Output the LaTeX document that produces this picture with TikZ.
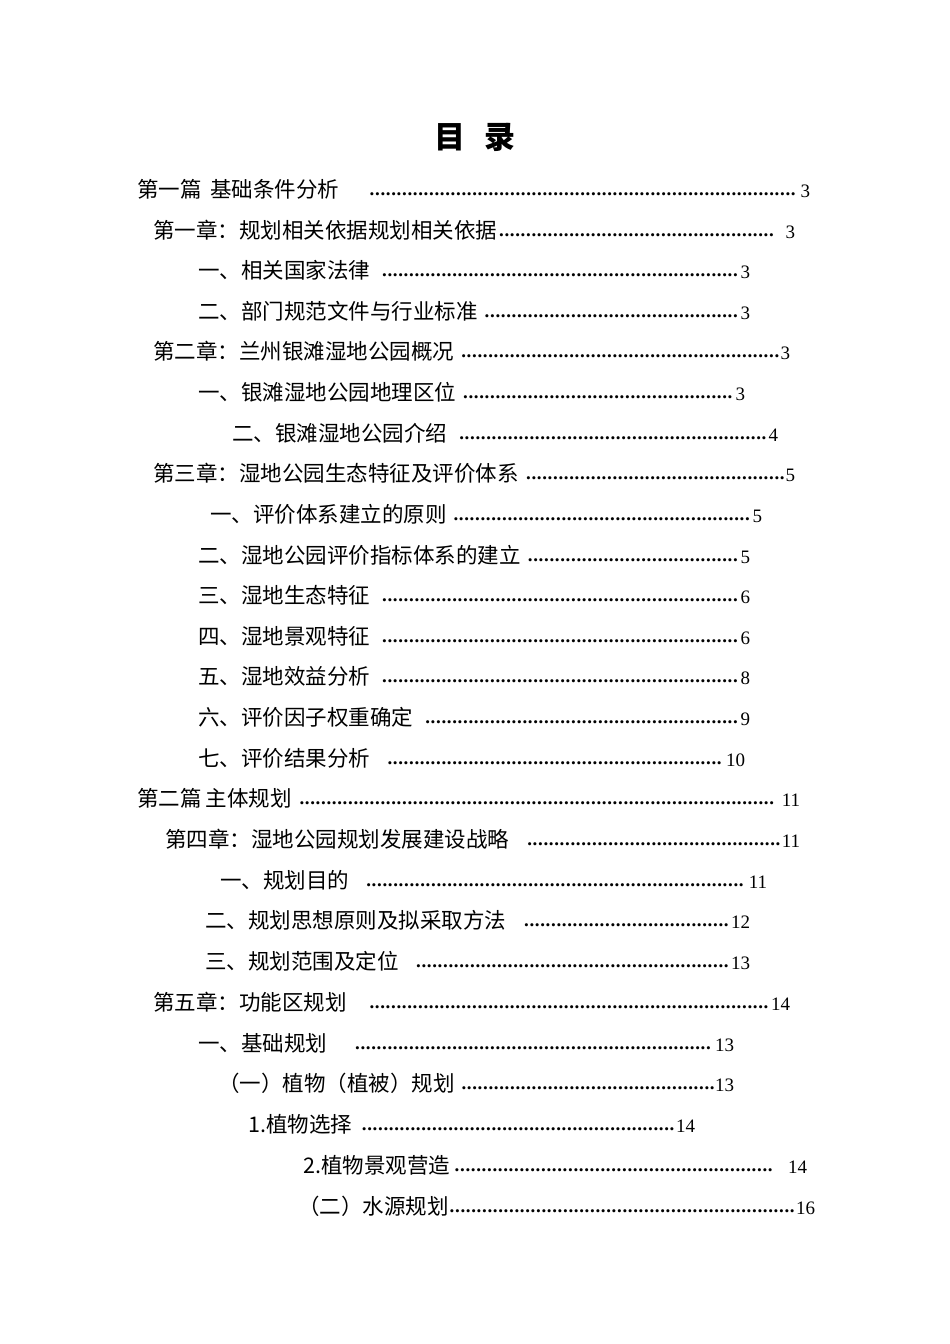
\documentclass[tikz,border=0pt]{standalone}
\usepackage{fontspec}
\setmainfont{Liberation Serif}
\newfontfamily\cjk{Noto Sans CJK SC}
\newcommand{\mydots}{\leaders\hbox to 5.4pt{\hss\raisebox{2pt}{\textbf{.}}\hss}\hfill}
\newcommand{\tocline}[6]{%
  \node[tocitem, text width=#4pt-#2pt] (#6) at (#2pt,-#1pt-7pt) {{\cjk\fontsize{21.5}{21.5}\selectfont #3}\mydots #5};}
\begin{document}
\begin{tikzpicture}[x=1pt,y=1pt,
  tocitem/.style={anchor=base west, inner sep=0pt, font=\fontsize{19}{19}\selectfont, align=left}]
\useasboundingbox[fill=white] (0,0) rectangle (950,-1344);
\node[font=\cjk\bfseries\fontsize{31}{31}\selectfont] (title) at (475,-137) {目\hspace{0.6em}录};
\tocline{190}{137}{第一篇\hspace{0.4em}基础条件分析\hspace{1.2em}}{810}{3}{l1}
\tocline{231}{153}{第一章：规划相关依据规划相关依据}{795}{\hspace{0.4em}3}{l2}
\tocline{271}{198}{一、相关国家法律\hspace{0.3em}}{750}{3}{l3}
\tocline{312}{198}{二、部门规范文件与行业标准\hspace{0.3em}}{750}{3}{l4}
\tocline{352}{153}{第二章：兰州银滩湿地公园概况\hspace{0.3em}}{790}{3}{l5}
\tocline{393}{198}{一、银滩湿地公园地理区位\hspace{0.3em}}{745}{3}{l6}
\tocline{434}{232}{二、银滩湿地公园介绍\hspace{0.3em}}{778}{4}{l7}
\tocline{474}{153}{第三章：湿地公园生态特征及评价体系\hspace{0.3em}}{795}{5}{l8}
\tocline{515}{210}{一、评价体系建立的原则\hspace{0.3em}}{762}{5}{l9}
\tocline{556}{198}{二、湿地公园评价指标体系的建立\hspace{0.3em}}{750}{5}{l10}
\tocline{596}{198}{三、湿地生态特征\hspace{0.3em}}{750}{6}{l11}
\tocline{637}{198}{四、湿地景观特征\hspace{0.3em}}{750}{6}{l12}
\tocline{677}{198}{五、湿地效益分析\hspace{0.3em}}{750}{8}{l13}
\tocline{718}{198}{六、评价因子权重确定\hspace{0.3em}}{750}{9}{l14}
\tocline{759}{198}{七、评价结果分析\hspace{0.6em}}{745}{10}{l15}
\tocline{799}{137}{第二篇\hspace{0.2em}主体规划\hspace{0.2em}}{800}{\hspace{0.3em}11}{l16}
\tocline{840}{165}{第四章：湿地公园规划发展建设战略\hspace{0.6em}}{800}{11}{l17}
\tocline{881}{220}{一、规划目的\hspace{0.6em}}{767}{11}{l18}
\tocline{921}{205}{二、规划思想原则及拟采取方法\hspace{0.6em}}{750}{12}{l19}
\tocline{962}{205}{三、规划范围及定位\hspace{0.6em}}{750}{13}{l20}
\tocline{1003}{153}{第五章：功能区规划\hspace{0.8em}}{790}{14}{l21}
\tocline{1044}{198}{一、基础规划\hspace{1.2em}}{734}{13}{l22}
\tocline{1084}{218}{（一）植物（植被）规划\hspace{0.3em}}{734}{13}{l23}
\tocline{1125}{248}{1.植物选择\hspace{0.3em}}{695}{14}{l24}
\tocline{1166}{303}{2.植物景观营造}{807}{\hspace{0.6em}14}{l25}
\tocline{1207}{298}{（二）水源规划}{815}{16}{l26}
\end{tikzpicture}
\end{document}
